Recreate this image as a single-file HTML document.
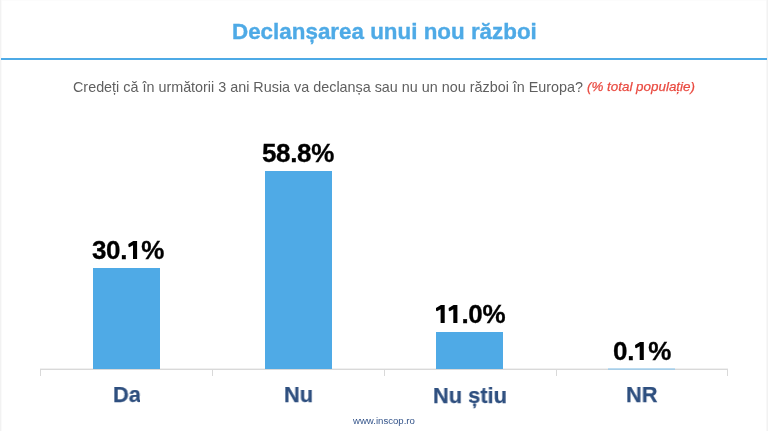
<!DOCTYPE html>
<html><head><meta charset="utf-8">
<style>
html,body{margin:0;padding:0;}
body{width:768px;height:431px;position:relative;overflow:hidden;background:#fff;font-family:"Liberation Sans",sans-serif;}
.edge-l{position:absolute;left:0;top:0;width:1px;height:431px;background:#f2f2f2;border-right:1px solid #fafafa;}
.edge-r{position:absolute;right:0;top:0;width:1px;height:431px;background:#f2f2f2;border-left:1px solid #f8f8f8;}
.edge-t{position:absolute;left:0;top:0;width:768px;height:1px;background:#fcfcfc;}
.t{position:absolute;white-space:nowrap;line-height:1;will-change:transform;}
.title{font-weight:bold;color:#4eaae6;-webkit-text-stroke:0.35px #4eaae6;}
#rule{position:absolute;left:1px;top:58px;width:766px;height:2px;background:#4eaae6;}
.sub{color:#5f5f5f;}
.red{color:#e94a40;font-style:italic;-webkit-text-stroke:0.25px #e94a40;}
.bar{position:absolute;background:#4faae6;}
.pct{font-weight:bold;color:#000;-webkit-text-stroke:0.3px #000;}
.cat{font-weight:bold;color:#2e4f7f;-webkit-text-stroke:0.25px #2e4f7f;}
.axis{position:absolute;left:40px;width:688px;height:1px;}
.tick{position:absolute;top:369px;width:1px;height:7px;background:#d9d9d9;}
.h{color:transparent;-webkit-text-stroke-color:transparent;}
.one{position:absolute;left:0;top:0;}
.www{color:#34548a;}
</style></head><body>
<div class="edge-t"></div>
<div class="edge-l"></div>
<div class="edge-r"></div>
<div class="t title" id="title" style="left:232.3px;top:20.6px;font-size:22.4px;">Declanșarea unui nou război</div>
<div id="rule"></div>
<div class="t sub" id="sub" style="left:73px;top:79.6px;font-size:14.36px;">Credeți că în următorii 3 ani Rusia va declanșa sau nu un nou război în Europa?</div>
<div class="t red" id="red" style="left:587px;top:80.2px;font-size:13.4px;">(% total populație)</div>
<div class="axis" style="top:368px;background:#f0f0f0;"></div>
<div class="axis" style="top:369px;background:#d9d9d9;"></div>
<div class="tick" style="left:40px"></div>
<div class="tick" style="left:212px"></div>
<div class="tick" style="left:384px"></div>
<div class="tick" style="left:556px"></div>
<div class="tick" style="left:727px"></div>
<div class="bar" style="left:93px;top:268px;width:67px;height:101px;"></div>
<div class="bar" style="left:265px;top:171px;width:67px;height:198px;"></div>
<div class="bar" style="left:436px;top:332px;width:67px;height:37px;"></div>
<div class="bar" style="left:608px;top:368px;width:67px;height:1px;background:#bcdcf1;"></div>
<div class="bar" style="left:608px;top:369px;width:67px;height:1px;background:#a8cde6;"></div>
<div class="t pct" id="p1" style="left:91.8px;top:237.0px;font-size:26.0px;letter-spacing:-0.35px;">30.<span class=h>1</span>%</div>
<div class="t pct" id="p2" style="left:262px;top:140.1px;font-size:26.0px;letter-spacing:-0.35px;">58.8%</div>
<div class="t pct" id="p3" style="left:434.9px;top:301.0px;font-size:26.0px;letter-spacing:-0.45px;"><span class=h>1</span><span class=h>1</span>.0%</div>
<div class="t pct" id="p4" style="left:612.8px;top:338.0px;font-size:26.0px;letter-spacing:-0.3px;">0.<span class=h>1</span>%</div>
<svg class="one" width="768" height="431" viewBox="0 0 768 431"><polygon fill="#000" points="133.30,241.00 137.10,241.00 137.10,259.00 133.00,259.00 133.00,245.30 129.40,247.30 128.40,246.40 128.40,243.90"/><polygon fill="#000" points="440.90,305.00 444.70,305.00 444.70,323.00 440.60,323.00 440.60,309.30 437.00,311.30 436.00,310.40 436.00,307.90"/><polygon fill="#000" points="453.60,305.00 457.40,305.00 457.40,323.00 453.30,323.00 453.30,309.30 449.70,311.30 448.70,310.40 448.70,307.90"/><polygon fill="#000" points="640.00,342.00 643.80,342.00 643.80,360.00 639.70,360.00 639.70,346.30 636.10,348.30 635.10,347.40 635.10,344.90"/></svg>
<div class="t cat" id="c1" style="left:113px;top:384.4px;font-size:22.5px;transform:scale(0.97,1);transform-origin:0 0;">Da</div>
<div style="position:absolute;left:139.7px;top:396px;width:3px;height:8px;background:#fff;"></div>
<div class="t cat" id="c2" style="left:284px;top:384.4px;font-size:22.5px;transform:scale(0.97,1);transform-origin:0 0;">Nu</div>
<div class="t cat" id="c3" style="left:433px;top:384.6px;font-size:22.5px;transform:scale(0.97,1);transform-origin:0 0;">Nu știu</div>
<div class="t cat" id="c4" style="left:626px;top:384.4px;font-size:22.5px;transform:scale(0.97,1);transform-origin:0 0;">NR</div>
<div class="t www" id="www" style="left:353px;top:415.7px;font-size:9.6px;">www.inscop.ro</div>
</body></html>
